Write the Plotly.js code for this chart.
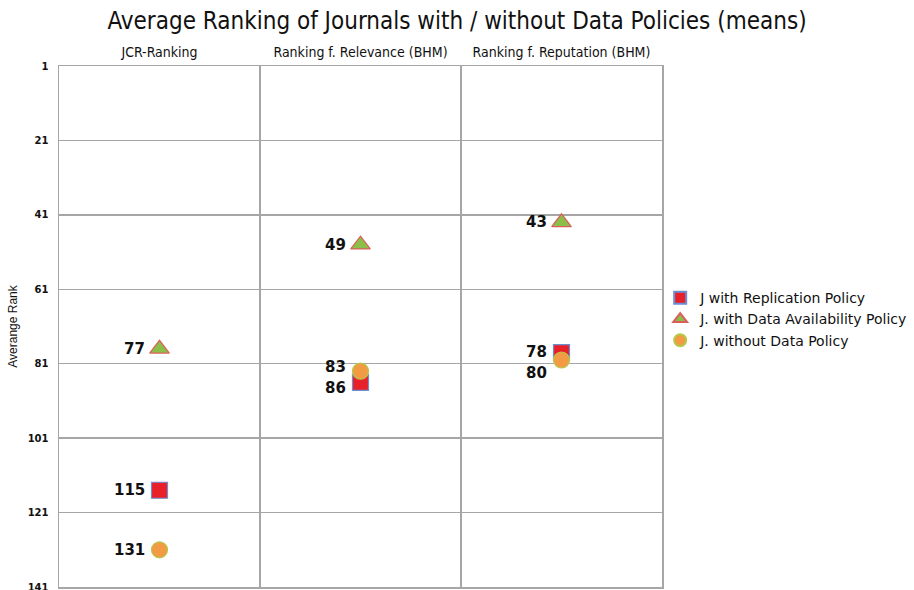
<!DOCTYPE html>
<html>
<head>
<meta charset="utf-8">
<script src="https://cdn.plot.ly/plotly-3.0.1.min.js"></script>
<style>html,body{margin:0;padding:0;background:#fff}#chart{width:914px;height:590px}</style>
</head>
<body>
<div id="chart"></div>
<script>
const categories = ["JCR-Ranking", "Ranking f. Relevance (BHM)", "Ranking f. Reputation (BHM)"];
const seriesNames = ["J with Replication Policy", "J. with Data Availability Policy", "J. without Data Policy"];
const replication = [115, 86, 78];
const dataAvailability = [77, 49, 43];
const withoutPolicy = [131, 83, 80];
const yTicks = [1, 21, 41, 61, 81, 101, 121, 141];

const xPos = categories.map((c, i) => i + 0.5);
const labelFont = {family: "DejaVu Sans", size: 15, color: "#111", weight: "bold"};

// vertical nudges (px) for value labels so overlapping labels separate
const replicationShift = [0, -6, 1];
const availabilityShift = [0, 0, 0];
const withoutShift = [0, 4, -13];

const traces = [
  {
    name: seriesNames[0], x: xPos, y: replication, type: "scatter", mode: "markers",
    marker: {symbol: "square", size: 16, color: "#e8202a", line: {color: "#6b8fd0", width: 1.2}}
  },
  {
    name: seriesNames[1], x: xPos, y: dataAvailability, type: "scatter", mode: "markers",
    marker: {symbol: "triangle-up", size: 17, color: "#8cbf4a", line: {color: "#d9605a", width: 1.2}}
  },
  {
    name: seriesNames[2], x: xPos, y: withoutPolicy, type: "scatter", mode: "markers",
    marker: {symbol: "circle", size: 16, color: "#f39a44", line: {color: "#b5c94a", width: 1.2}}
  }
];

const annotations = [];
[[replication, replicationShift], [dataAvailability, availabilityShift], [withoutPolicy, withoutShift]].forEach(([vals, shifts]) => {
  vals.forEach((v, i) => {
    annotations.push({x: xPos[i], y: v, xref: "x", yref: "y", text: String(v), showarrow: false,
      xanchor: "right", yanchor: "middle", xshift: -13, yshift: shifts[i], font: labelFont});
  });
});

const layout = {
  width: 914, height: 590,
  margin: {l: 59, r: 252, t: 66, b: 3, autoexpand: false},
  paper_bgcolor: "#fff", plot_bgcolor: "#fff",
  title: {text: "Average Ranking of Journals with / without Data Policies (means)",
          font: {family: "DejaVu Sans Condensed", size: 24, color: "#111"},
          x: 0.5, xanchor: "center", y: 0.965, yanchor: "middle"},
  showlegend: true,
  legend: {x: 0.997, xanchor: "left", y: 0.585, yanchor: "top",
           bgcolor: "rgba(0,0,0,0)",
           font: {family: "DejaVu Sans", size: 14, color: "#111"},
           itemsizing: "constant", tracegroupgap: 0},
  annotations: annotations,
  xaxis: {
    range: [0, 3], side: "top",
    tickvals: xPos, ticktext: categories,
    tickfont: {family: "DejaVu Sans Condensed", size: 14, color: "#111"},
    ticks: "", ticklabelstandoff: 2, showgrid: false, zeroline: false,
    showline: true, mirror: true, linecolor: "#a6a6a6", linewidth: 1.5,
    minor: {tickvals: [1, 2], showgrid: true, gridcolor: "#a6a6a6", gridwidth: 1.5, ticks: ""},
    fixedrange: true
  },
  yaxis: {
    range: [141, 1], tickvals: yTicks, ticktext: yTicks.map(String),
    tickfont: {family: "DejaVu Sans", size: 10, color: "#111", weight: "bold"},
    ticks: "", ticklabelstandoff: 7, ticklabeloverflow: "allow",
    showgrid: true, gridcolor: "#a6a6a6", gridwidth: 1.5, zeroline: false,
    showline: true, mirror: true, linecolor: "#a6a6a6", linewidth: 1.5,
    title: {text: "Averange Rank", font: {family: "Liberation Sans", size: 12, color: "#111"}, standoff: 7},
    fixedrange: true
  }
};

Plotly.newPlot("chart", traces, layout, {displayModeBar: false, staticPlot: true});
</script>
</body>
</html>
